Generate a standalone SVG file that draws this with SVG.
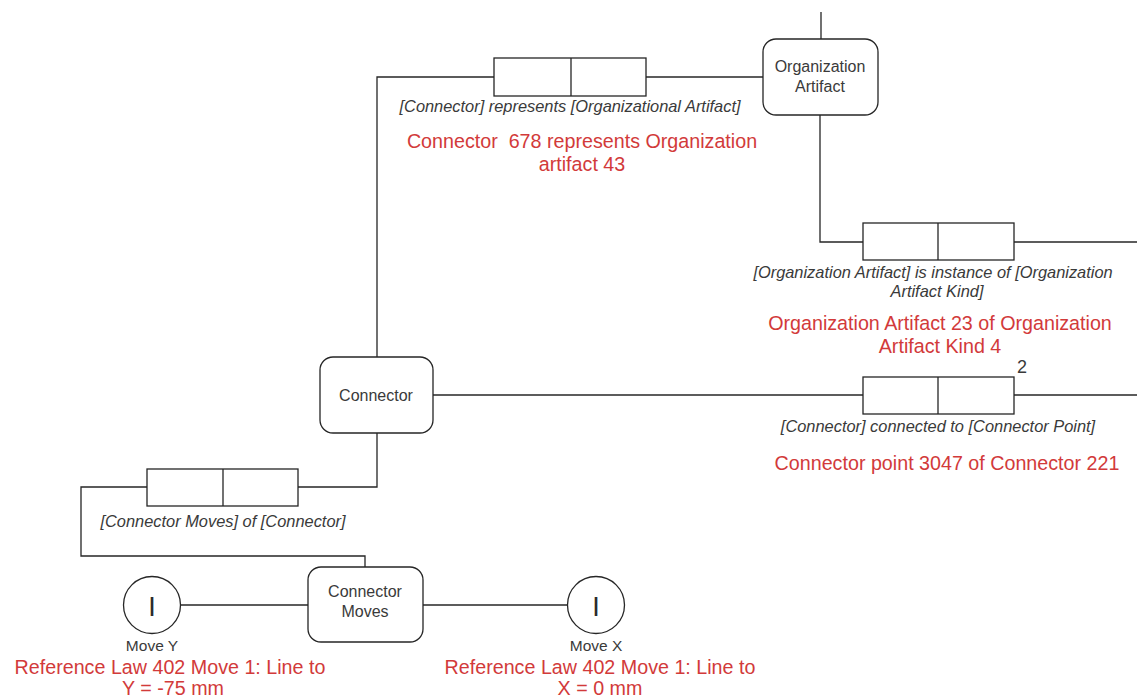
<svg xmlns="http://www.w3.org/2000/svg" width="1137" height="697" viewBox="0 0 1137 697">
  <style>
    .node { fill: #ffffff; stroke: #262626; stroke-width: 1.3; }
    .rel { fill: #ffffff; stroke: #262626; stroke-width: 1.3; }
    .wire { fill: none; stroke: #262626; stroke-width: 1.3; }
    .lbl { font-family: "Liberation Sans", Arial, sans-serif; font-size: 16px; fill: #3a3a3a; text-anchor: middle; }
    .rname { font-family: "Liberation Sans", Arial, sans-serif; font-size: 16.4px; font-style: italic; fill: #3a3a3a; text-anchor: middle; }
    .inst { font-family: "Liberation Sans", Arial, sans-serif; font-size: 19.7px; fill: #d23a3a; text-anchor: middle; white-space: pre; }
    .small { font-family: "Liberation Sans", Arial, sans-serif; font-size: 15.5px; fill: #3a3a3a; text-anchor: middle; }
    .glyph { font-family: "Liberation Sans", Arial, sans-serif; font-size: 27px; fill: #2a2a2a; text-anchor: middle; }
  </style>
  <rect width="1137" height="697" fill="#ffffff"/>

  <!-- connectors -->
  <g id="connectors">
    <path class="wire" d="M821 12 V39"/>
    <path class="wire" d="M377 357 V77 H494"/>
    <path class="wire" d="M646 77 H763"/>
    <path class="wire" d="M820 115 V242 H863"/>
    <path class="wire" d="M1014 242 H1137"/>
    <path class="wire" d="M433 395 H863"/>
    <path class="wire" d="M1014 395 H1137"/>
    <path class="wire" d="M377 433 V487 H298"/>
    <path class="wire" d="M147 487 H81 V556 H365 V567"/>
    <path class="wire" d="M181 605 H308"/>
    <path class="wire" d="M423 605 H568"/>
  </g>

  <!-- relation: Connector represents Organizational Artifact -->
  <g id="rel-represents">
    <rect class="rel" x="494" y="58" width="152" height="38"/>
    <line class="wire" x1="571" y1="58" x2="571" y2="96"/>
    <text class="rname" x="570" y="112">[Connector] represents [Organizational Artifact]</text>
    <text class="inst" x="582" y="148" xml:space="preserve">Connector  678 represents Organization</text>
    <text class="inst" x="582" y="171">artifact 43</text>
  </g>

  <!-- relation: Organization Artifact is instance of Organization Artifact Kind -->
  <g id="rel-instance">
    <rect class="rel" x="863" y="223" width="151" height="37"/>
    <line class="wire" x1="938" y1="223" x2="938" y2="260"/>
    <text class="rname" x="933" y="278">[Organization Artifact] is instance of [Organization</text>
    <text class="rname" x="937" y="297">Artifact Kind]</text>
    <text class="inst" x="940" y="330">Organization Artifact 23 of Organization</text>
    <text class="inst" x="940" y="353">Artifact Kind 4</text>
  </g>

  <!-- relation: Connector connected to Connector Point -->
  <g id="rel-connected">
    <rect class="rel" x="863" y="377" width="151" height="37"/>
    <line class="wire" x1="938" y1="377" x2="938" y2="414"/>
    <text class="lbl" x="1022" y="373" style="font-size:18px">2</text>
    <text class="rname" x="938" y="432">[Connector] connected to [Connector Point]</text>
    <text class="inst" x="947" y="470">Connector point 3047 of Connector 221</text>
  </g>

  <!-- relation: Connector Moves of Connector -->
  <g id="rel-moves">
    <rect class="rel" x="147" y="469" width="151" height="37"/>
    <line class="wire" x1="223" y1="469" x2="223" y2="506"/>
    <text class="rname" x="223" y="527">[Connector Moves] of [Connector]</text>
  </g>

  <!-- object nodes -->
  <g id="node-org-artifact">
    <rect class="node" x="763" y="39" width="115" height="76" rx="13"/>
    <text class="lbl" x="820" y="72">Organization</text>
    <text class="lbl" x="820" y="92">Artifact</text>
  </g>

  <g id="node-connector">
    <rect class="node" x="320" y="357" width="113" height="76" rx="13"/>
    <text class="lbl" x="376" y="401">Connector</text>
  </g>

  <g id="node-connector-moves">
    <rect class="node" x="308" y="567" width="115" height="75" rx="13"/>
    <text class="lbl" x="365" y="597">Connector</text>
    <text class="lbl" x="365" y="617">Moves</text>
  </g>

  <!-- individual moves -->
  <g id="node-move-y">
    <circle class="node" cx="152" cy="605" r="28.5"/>
    <text class="glyph" x="152" y="616">I</text>
    <text class="small" x="152" y="651">Move Y</text>
    <text class="inst" x="170" y="674">Reference Law 402 Move 1: Line to</text>
    <text class="inst" x="173" y="695">Y = -75 mm</text>
  </g>

  <g id="node-move-x">
    <circle class="node" cx="596" cy="605" r="28.5"/>
    <text class="glyph" x="596" y="616">I</text>
    <text class="small" x="596" y="651">Move X</text>
    <text class="inst" x="600" y="674">Reference Law 402 Move 1: Line to</text>
    <text class="inst" x="600" y="695">X = 0 mm</text>
  </g>
</svg>
